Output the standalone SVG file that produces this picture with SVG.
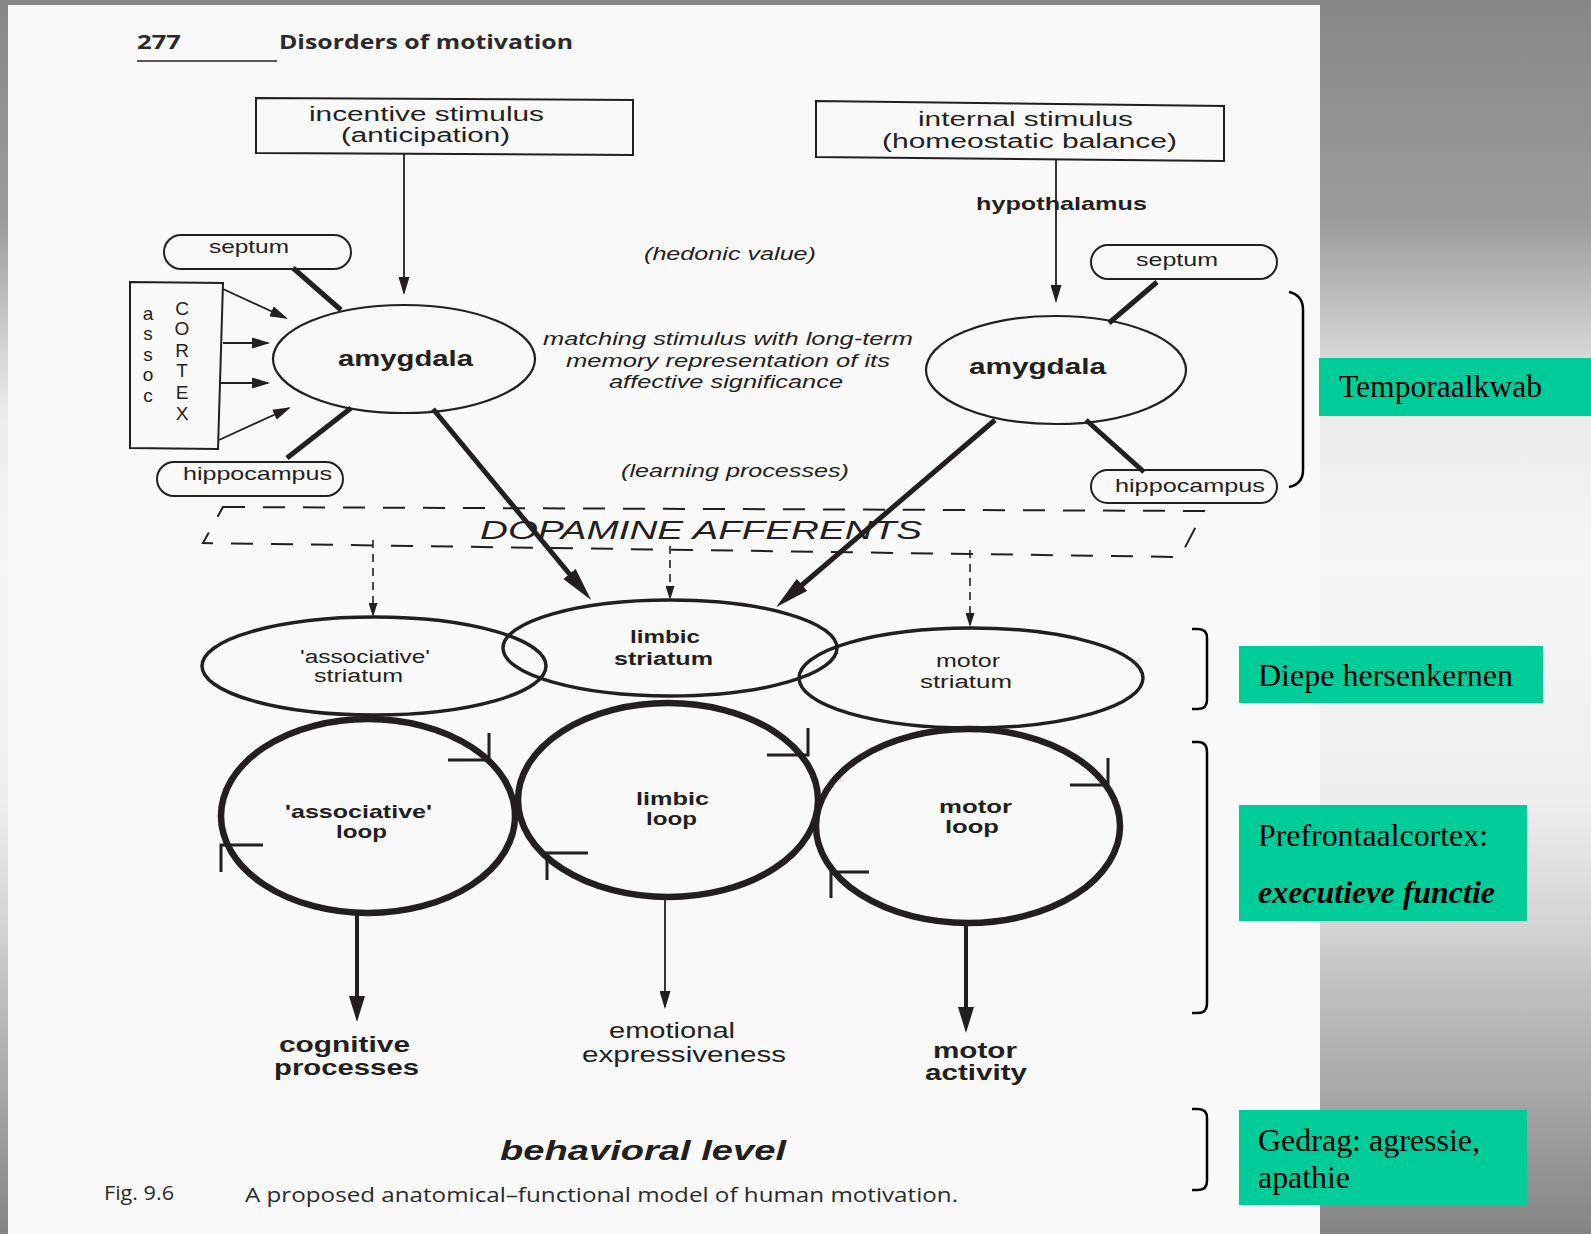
<svg xmlns="http://www.w3.org/2000/svg" width="1591" height="1234" viewBox="0 0 1591 1234">
<defs>
<linearGradient id="bg" x1="0" y1="0" x2="0" y2="1">
<stop offset="0" stop-color="#878787"/>
<stop offset="0.18" stop-color="#9c9c9c"/>
<stop offset="0.29" stop-color="#d8d8d8"/>
<stop offset="0.34" stop-color="#ececec"/>
<stop offset="0.46" stop-color="#f6f6f6"/>
<stop offset="0.65" stop-color="#eeeeee"/>
<stop offset="0.75" stop-color="#d4d4d4"/>
<stop offset="0.8" stop-color="#c0c0c0"/>
<stop offset="0.91" stop-color="#a0a0a0"/>
<stop offset="1" stop-color="#848484"/>
</linearGradient>
<marker id="ah" markerUnits="userSpaceOnUse" markerWidth="18" markerHeight="11" refX="16" refY="5.5" orient="auto"><path d="M0,0 L18,5.5 L0,11 z" fill="#231f20"/></marker>
<marker id="ahs" markerUnits="userSpaceOnUse" markerWidth="14" markerHeight="9" refX="12" refY="4.5" orient="auto"><path d="M0,0 L14,4.5 L0,9 z" fill="#231f20"/></marker>
<marker id="ahb" markerUnits="userSpaceOnUse" markerWidth="34" markerHeight="16" refX="4" refY="8" orient="auto"><path d="M0,0 L34,8 L0,16 z" fill="#231f20"/></marker>
<marker id="ahm" markerUnits="userSpaceOnUse" markerWidth="26" markerHeight="16" refX="4" refY="8" orient="auto"><path d="M0,0 L26,8 L0,16 z" fill="#231f20"/></marker>
</defs>
<style>
.t{font-family:"Liberation Sans",Arial,sans-serif;fill:#231f20}
.o{font-family:"Open Sans","Liberation Sans",sans-serif;fill:#2a2a2a}
.b{font-weight:bold}
.i{font-style:italic}
.s18{font-size:18px}.s19{font-size:19px}.s20{font-size:20px}.s22{font-size:22px}
.box{fill:none;stroke:#231f20;stroke-width:2}
.rr{fill:none;stroke:#231f20;stroke-width:2}
.amy{fill:none;stroke:#231f20;stroke-width:2.2}
.str{fill:none;stroke:#231f20;stroke-width:3.5}
.loop{fill:none;stroke:#231f20;stroke-width:6.5}
.thin{fill:none;stroke:#231f20;stroke-width:1.8}
.thick{fill:none;stroke:#231f20;stroke-width:5}
.barb{fill:none;stroke:#231f20;stroke-width:3}
.dash{fill:none;stroke:#231f20;stroke-width:1.6;stroke-dasharray:8 6}
.brk{fill:none;stroke:#000;stroke-width:2.5}
.green{fill:#00cc99}
.g{font-family:"Liberation Serif","Times New Roman",serif;fill:#000}
</style>

<rect x="0" y="0" width="1591" height="1234" fill="url(#bg)"/>
<rect x="8" y="5" width="1312" height="1229" fill="#f9f9f9"/>

<g id="header">
<text class="o b s20" x="137" y="49" textLength="44" lengthAdjust="spacingAndGlyphs">277</text>
<text class="o b s20" x="279" y="49" textLength="294" lengthAdjust="spacingAndGlyphs">Disorders of motivation</text>
<line x1="137" y1="61" x2="277" y2="61" stroke="#231f20" stroke-width="1.5"/>
</g>

<g id="connectors">
<line class="thin" x1="404" y1="153" x2="404" y2="293" marker-end="url(#ah)"/>
<line class="thin" x1="1056" y1="160" x2="1056" y2="301" marker-end="url(#ah)"/>
<line class="thin" x1="223" y1="289" x2="286" y2="318" marker-end="url(#ah)"/>
<line class="thin" x1="223" y1="343" x2="268" y2="343" marker-end="url(#ah)"/>
<line class="thin" x1="219" y1="383" x2="268" y2="383" marker-end="url(#ah)"/>
<line class="thin" x1="219" y1="440" x2="289" y2="408" marker-end="url(#ah)"/>
<line class="thick" x1="293" y1="268" x2="341" y2="310"/>
<line class="thick" x1="287" y1="458" x2="351" y2="408"/>
<line class="thick" x1="1157" y1="282" x2="1109" y2="323"/>
<line class="thick" x1="1086" y1="420" x2="1144" y2="472"/>
<line class="thick" x1="433" y1="409" x2="572" y2="577" marker-end="url(#ahb)"/>
<line class="thick" x1="995" y1="420" x2="799" y2="587.5" marker-end="url(#ahb)"/>
<line class="dash" x1="373" y1="540" x2="373" y2="615" marker-end="url(#ahs)"/>
<line class="dash" x1="670" y1="546" x2="670" y2="598" marker-end="url(#ahs)"/>
<line class="dash" x1="970" y1="550" x2="970" y2="625" marker-end="url(#ahs)"/>
<line stroke="#231f20" stroke-width="4" x1="357" y1="913" x2="357" y2="1000" marker-end="url(#ahm)"/>
<line class="thin" x1="665" y1="897" x2="665" y2="1007" marker-end="url(#ah)"/>
<line stroke="#231f20" stroke-width="4" x1="966" y1="923" x2="966" y2="1011" marker-end="url(#ahm)"/>
</g>

<g id="incentive">
<polygon class="box" points="256,98 633,100 633,155 256,153"/>
<text class="t s20" x="309" y="121" textLength="235" lengthAdjust="spacingAndGlyphs">incentive stimulus</text>
<text class="t s20" x="341" y="142" textLength="169" lengthAdjust="spacingAndGlyphs">(anticipation)</text>
</g>

<g id="internal">
<polygon class="box" points="816,101 1224,106 1224,161 816,157"/>
<text class="t s20" x="918" y="126" textLength="215" lengthAdjust="spacingAndGlyphs">internal stimulus</text>
<text class="t s20" x="882" y="148" textLength="295" lengthAdjust="spacingAndGlyphs">(homeostatic balance)</text>
</g>

<g id="hypothalamus-label">
<text class="t b s19" x="976" y="210" textLength="171" lengthAdjust="spacingAndGlyphs">hypothalamus</text>
</g>

<g id="hedonic-label">
<text class="t i s19" x="644" y="260" textLength="172" lengthAdjust="spacingAndGlyphs">(hedonic value)</text>
</g>

<g id="septum-left">
<rect class="rr" x="164" y="235" width="187" height="34" rx="17"/>
<text class="t s19" x="209" y="253" textLength="80" lengthAdjust="spacingAndGlyphs">septum</text>
</g>

<g id="assoc-cortex">
<polygon class="box" points="130,282 223,283 218,449 130,448"/>
<g class="t s19" text-anchor="middle">
<text x="148" y="320">a</text>
<text x="148" y="340">s</text>
<text x="148" y="361">s</text>
<text x="148" y="381">o</text>
<text x="148" y="402">c</text>
<text x="182" y="315">C</text>
<text x="182" y="335">O</text>
<text x="182" y="357">R</text>
<text x="182" y="377">T</text>
<text x="182" y="399">E</text>
<text x="182" y="420">X</text>
</g>
</g>

<g id="amygdala-left">
<ellipse class="amy" cx="404" cy="359" rx="131" ry="54"/>
<text class="t b s22" x="338" y="366" textLength="135" lengthAdjust="spacingAndGlyphs">amygdala</text>
</g>

<g id="hippocampus-left">
<rect class="rr" x="157" y="462" width="186" height="34" rx="17"/>
<text class="t s19" x="183" y="480" textLength="149" lengthAdjust="spacingAndGlyphs">hippocampus</text>
</g>

<g id="matching-label">
<text class="t i s19" x="543" y="345" textLength="370" lengthAdjust="spacingAndGlyphs">matching stimulus with long-term</text>
<text class="t i s19" x="566" y="367" textLength="324" lengthAdjust="spacingAndGlyphs">memory representation of its</text>
<text class="t i s19" x="609" y="388" textLength="234" lengthAdjust="spacingAndGlyphs">affective significance</text>
</g>

<g id="septum-right">
<rect class="rr" x="1091" y="245" width="186" height="34" rx="17"/>
<text class="t s19" x="1136" y="266" textLength="82" lengthAdjust="spacingAndGlyphs">septum</text>
</g>

<g id="amygdala-right">
<ellipse class="amy" cx="1056" cy="370" rx="130" ry="54"/>
<text class="t b s22" x="969" y="374" textLength="137" lengthAdjust="spacingAndGlyphs">amygdala</text>
</g>

<g id="hippocampus-right">
<rect class="rr" x="1091" y="470" width="186" height="33" rx="16.5"/>
<text class="t s19" x="1115" y="492" textLength="150" lengthAdjust="spacingAndGlyphs">hippocampus</text>
</g>

<g id="learning-label">
<text class="t i s19" x="621" y="477" textLength="228" lengthAdjust="spacingAndGlyphs">(learning processes)</text>
</g>

<g id="dopamine">
<polygon points="223,507 1204,511 1180,557 203,543" fill="none" stroke="#231f20" stroke-width="2" stroke-dasharray="22 18"/>
<text class="t i" font-size="26" x="480" y="539" textLength="442" lengthAdjust="spacingAndGlyphs">DOPAMINE AFFERENTS</text>
</g>

<g id="assoc-striatum">
<ellipse class="str" cx="374" cy="666" rx="172" ry="49"/>
<text class="t s18" x="300" y="663" textLength="130" lengthAdjust="spacingAndGlyphs">'associative'</text>
<text class="t s18" x="314" y="682" textLength="89" lengthAdjust="spacingAndGlyphs">striatum</text>
</g>

<g id="limbic-striatum">
<ellipse class="str" cx="670" cy="648" rx="167" ry="48"/>
<text class="t b s18" x="630" y="643" textLength="70" lengthAdjust="spacingAndGlyphs">limbic</text>
<text class="t b s18" x="614" y="665" textLength="99" lengthAdjust="spacingAndGlyphs">striatum</text>
</g>

<g id="motor-striatum">
<ellipse class="str" cx="971" cy="678" rx="172" ry="50"/>
<text class="t s18" x="936" y="667" textLength="64" lengthAdjust="spacingAndGlyphs">motor</text>
<text class="t s18" x="920" y="688" textLength="92" lengthAdjust="spacingAndGlyphs">striatum</text>
</g>

<g id="assoc-loop">
<ellipse class="loop" cx="368" cy="816" rx="147" ry="97"/>
<path class="barb" d="M448,760 L489,760 L489,733 M221,872 L221,845 L263,845"/>
<text class="t b s19" x="285" y="818" textLength="147" lengthAdjust="spacingAndGlyphs">'associative'</text>
<text class="t b s19" x="336" y="838" textLength="51" lengthAdjust="spacingAndGlyphs">loop</text>
</g>

<g id="limbic-loop">
<ellipse class="loop" cx="668" cy="800" rx="150" ry="97"/>
<path class="barb" d="M767,755 L808,755 L808,728 M547,880 L547,853 L588,853"/>
<text class="t b s19" x="636" y="805" textLength="73" lengthAdjust="spacingAndGlyphs">limbic</text>
<text class="t b s19" x="646" y="825" textLength="51" lengthAdjust="spacingAndGlyphs">loop</text>
</g>

<g id="motor-loop">
<ellipse class="loop" cx="968" cy="826" rx="152" ry="97"/>
<path class="barb" d="M1070,785 L1108,785 L1108,758 M831,898 L831,872 L869,872"/>
<text class="t b s19" x="939" y="813" textLength="73" lengthAdjust="spacingAndGlyphs">motor</text>
<text class="t b s19" x="945" y="833" textLength="54" lengthAdjust="spacingAndGlyphs">loop</text>
</g>

<g id="cognitive-output">
<text class="t b s22" x="279" y="1052" textLength="131" lengthAdjust="spacingAndGlyphs">cognitive</text>
<text class="t b s22" x="274" y="1075" textLength="145" lengthAdjust="spacingAndGlyphs">processes</text>
</g>
<g id="emotional-output">
<text class="t s22" x="609" y="1038" textLength="126" lengthAdjust="spacingAndGlyphs">emotional</text>
<text class="t s22" x="582" y="1062" textLength="204" lengthAdjust="spacingAndGlyphs">expressiveness</text>
</g>
<g id="motor-output">
<text class="t b s22" x="933" y="1058" textLength="84" lengthAdjust="spacingAndGlyphs">motor</text>
<text class="t b s22" x="925" y="1080" textLength="102" lengthAdjust="spacingAndGlyphs">activity</text>
</g>

<g id="behavioral-level">
<text class="t b i" font-size="27" x="500" y="1160" textLength="286" lengthAdjust="spacingAndGlyphs">behavioral level</text>
</g>

<g id="caption">
<text class="o" font-size="20" x="104" y="1200" textLength="70" lengthAdjust="spacingAndGlyphs">Fig. 9.6</text>
<text class="o" font-size="20" x="245" y="1202" textLength="713" lengthAdjust="spacingAndGlyphs">A proposed anatomical–functional model of human motivation.</text>
</g>

<g id="temporaalkwab">
<path class="brk" d="M1289,292 Q1303,295 1303,310 L1303,470 Q1303,484 1289,487"/>
<rect class="green" x="1319" y="358" width="272" height="58"/>
<text class="g" font-size="31" x="1339" y="397" textLength="203" lengthAdjust="spacingAndGlyphs">Temporaalkwab</text>
</g>

<g id="diepe-hersenkernen">
<path class="brk" d="M1192,629 L1198,629 Q1207,629 1207,638 L1207,700 Q1207,709 1198,709 L1192,709"/>
<rect class="green" x="1239" y="646" width="304" height="57"/>
<text class="g" font-size="32" x="1258" y="686" textLength="255" lengthAdjust="spacingAndGlyphs">Diepe hersenkernen</text>
</g>

<g id="prefrontaalcortex">
<path class="brk" d="M1192,742 L1198,742 Q1207,742 1207,752 L1207,1003 Q1207,1013 1198,1013 L1192,1013"/>
<rect class="green" x="1239" y="805" width="288" height="116"/>
<text class="g" font-size="32" x="1258" y="846" textLength="230" lengthAdjust="spacingAndGlyphs">Prefrontaalcortex:</text>
<text class="g" font-size="32" font-weight="bold" font-style="italic" x="1258" y="903" textLength="237" lengthAdjust="spacingAndGlyphs">executieve functie</text>
</g>

<g id="gedrag">
<path class="brk" d="M1192,1109 L1198,1109 Q1207,1109 1207,1118 L1207,1181 Q1207,1190 1198,1190 L1192,1190"/>
<rect class="green" x="1239" y="1110" width="288" height="95"/>
<text class="g" font-size="32" x="1258" y="1151" textLength="222" lengthAdjust="spacingAndGlyphs">Gedrag: agressie,</text>
<text class="g" font-size="32" x="1258" y="1188" textLength="92" lengthAdjust="spacingAndGlyphs">apathie</text>
</g>
</svg>
